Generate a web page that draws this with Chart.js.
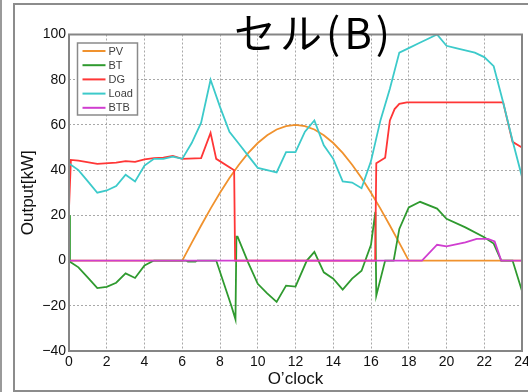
<!DOCTYPE html>
<html>
<head>
<meta charset="utf-8">
<script src="https://cdn.jsdelivr.net/npm/chart.js@4.4.1/dist/chart.umd.min.js"></script>
<style>
  html, body { margin: 0; padding: 0; background: #fff; }
  #wrap { position: relative; width: 528px; height: 392px; overflow: hidden; background: #fff; }
  #edge { position: absolute; left: 0; top: 0; width: 2px; height: 392px; background: #9a9a9a; }
  #frame { position: absolute; left: 13px; top: 3px; width: 620px; height: 389px;
           border: 2px solid #8c8c8c; box-sizing: border-box; }
  canvas { position: absolute; left: 0; top: 0; }
</style>
</head>
<body>
<div id="wrap">
  <div id="edge"></div>
  <div id="frame"></div>
  <canvas id="c" width="528" height="392"></canvas>
</div>
<script>
// Title and axis text
const titleText = 'セル(B)';
const xTitle = 'O’clock';
const yTitle = 'Output[kW]';

// Tick labels
const xTicks = [0, 2, 4, 6, 8, 10, 12, 14, 16, 18, 20, 22, 24];
const yTicks = [-40, -20, 0, 20, 40, 60, 80, 100];

// PV output [kW]
const pvHours = [0, 6, 6.5, 7, 7.5, 8, 8.5, 9, 9.5, 10, 10.5, 11, 11.5, 12, 12.5, 13, 13.5, 14, 14.5, 15, 15.5, 16, 16.5, 17, 17.5, 18, 24];
const pvValues = [0, 0, 7.8, 15.5, 23, 30, 36.5, 42.4, 47.6, 52, 55.4, 58, 59.5, 60, 59.5, 58, 55.4, 52, 47.6, 42.4, 36.5, 30, 23, 15.5, 7.8, 0, 0];

// Battery (BT) output [kW]
const btHours = [0, 0.05, 0.5, 1.0, 1.5, 2.0, 2.5, 3.0, 3.5, 4.0, 4.5, 6.2, 6.3, 6.7, 6.8, 7.8, 8.6, 8.82, 8.87, 8.93, 9.5, 10.0, 10.5, 11.0, 11.5, 12.0, 12.6, 13.0, 13.5, 14.0, 14.5, 15.0, 15.5, 16.0, 16.23, 16.28, 16.75, 17.2, 17.5, 18.0, 18.6, 19.5, 20.0, 21.0, 22.0, 22.5, 22.9, 23.5, 24];
const btValues = [20, -0.5, -3, -7.5, -12.2, -11.6, -9.8, -5.7, -7.7, -2.2, 0, 0, -0.5, -0.5, 0, 0, -20, -26, 10.6, 10.6, -1, -10.3, -14.5, -18.3, -11.1, -11.5, 0, 3.8, -5.2, -8, -12.8, -8, -4.5, 7, 21.5, -15.5, 0, 0, 14, 23.5, 26, 23, 18.5, 14.7, 10.3, 7.5, 0, 0, -13.5];

// Diesel generator (DG) output [kW]
const dgHours = [0, 0.1, 0.5, 1.5, 2.5, 3.0, 3.5, 4.0, 4.5, 5.0, 5.5, 6.0, 7.0, 7.5, 7.8, 8.75, 8.8, 16.22, 16.28, 16.75, 17.0, 17.25, 17.5, 17.9, 23.0, 23.5, 24];
const dgValues = [23, 44.5, 44.2, 42.8, 43.3, 44, 43.7, 44.8, 45.3, 45.5, 46.3, 45, 45.3, 56.5, 45, 40, 0, 0, 43, 45.5, 62, 67, 69.3, 70, 70, 52.5, 50];

// Load demand [kW]
const loadHours = [0, 0.5, 1.0, 1.5, 2.0, 2.5, 3.0, 3.5, 4.0, 4.5, 5.0, 5.5, 6.0, 6.5, 7.0, 7.5, 8.0, 8.5, 9.0, 9.5, 10.0, 10.5, 11.0, 11.5, 12.0, 12.5, 13.0, 13.5, 14.0, 14.5, 15.0, 15.5, 16.0, 16.5, 17.0, 17.5, 18.0, 18.5, 19.0, 19.5, 20.0, 20.5, 21.0, 21.5, 22.0, 22.5, 23.0, 23.5, 24.0];
const loadValues = [43, 40, 35, 30, 31, 33, 38, 35, 42, 45, 45, 46, 45, 52, 61, 80, 68, 57, 51.7, 46.3, 41, 40, 39, 48, 48, 57, 62, 51, 45, 35, 34.5, 32, 44, 62, 76, 92, 94, 96, 98, 100, 95, 94, 93, 92, 90, 86, 70, 53, 37];

// Back-to-back converter (BTB) output [kW]
const btbHours = [0, 18.7, 19.5, 20.0, 21.0, 21.6, 22.2, 22.55, 22.9, 24];
const btbValues = [0, 0, 7, 6.3, 8.1, 9.6, 9.6, 8.5, 0, 0];

function pts(hours, values) {
  return hours.map((h, i) => ({ x: h, y: values[i] }));
}

const series = [
  { label: 'PV',   hours: pvHours,   values: pvValues,   color: '#f0922e', order: 5 },
  { label: 'BT',   hours: btHours,   values: btValues,   color: '#2f9a2f', order: 4 },
  { label: 'DG',   hours: dgHours,   values: dgValues,   color: '#ff3636', order: 3 },
  { label: 'Load', hours: loadHours, values: loadValues, color: '#3ccaca', order: 2 },
  { label: 'BTB',  hours: btbHours,  values: btbValues,  color: '#d03ed0', order: 1 }
];

const minus = v => (v < 0 ? '\u2212' + Math.abs(v) : String(v));

// Axes box, inset legend and the large heading
const decor = {
  id: 'decor',
  afterDatasetsDraw(chart) {
    const { ctx, chartArea: a } = chart;
    ctx.save();
    ctx.strokeStyle = '#858585';
    ctx.lineWidth = 2;
    ctx.strokeRect(a.left, a.top, a.right - a.left, a.bottom - a.top);

    const lx = a.left + 8.5, ly = a.top + 8.5, w = 60, h = 72;
    ctx.fillStyle = '#fff';
    ctx.fillRect(lx, ly, w, h);
    ctx.strokeStyle = '#8a8a8a';
    ctx.lineWidth = 1.5;
    ctx.strokeRect(lx, ly, w, h);
    ctx.font = '11px "Liberation Sans", Arial, sans-serif';
    ctx.textBaseline = 'middle';
    ctx.textAlign = 'left';
    chart.data.datasets.forEach((ds, i) => {
      const y = ly + 8 + i * 14.2;
      ctx.strokeStyle = ds.borderColor;
      ctx.lineWidth = 2;
      ctx.beginPath();
      ctx.moveTo(lx + 5, y);
      ctx.lineTo(lx + 28, y);
      ctx.stroke();
      ctx.fillStyle = '#404040';
      ctx.fillText(ds.label, lx + 31, y + 0.5);
    });

    ctx.fillStyle = '#000';
    ctx.font = '42px "Noto Sans CJK JP", sans-serif';
    ctx.letterSpacing = '4px';
    ctx.textAlign = 'center';
    ctx.textBaseline = 'middle';
    ctx.fillText(titleText, 314, 33);
    ctx.restore();
  }
};

new Chart(document.getElementById('c'), {
  type: 'line',
  data: {
    datasets: series.map(s => ({
      label: s.label,
      data: pts(s.hours, s.values),
      borderColor: s.color,
      backgroundColor: s.color,
      borderWidth: 1.8,
      pointRadius: 0,
      tension: 0,
      fill: false,
      order: s.order
    }))
  },
  options: {
    responsive: false,
    animation: false,
    devicePixelRatio: 1,
    layout: { padding: { left: 0, top: 34.5, right: 6, bottom: 0 } },
    plugins: { legend: { display: false }, title: { display: false }, tooltip: { enabled: false } },
    scales: {
      x: {
        type: 'linear',
        min: 0, max: 24,
        afterBuildTicks: s => { s.ticks = xTicks.map(v => ({ value: v })); },
        afterFit: s => { s.height = 41; s.paddingLeft = 0; s.paddingRight = 0; },
        ticks: { color: '#111', font: { family: '"Liberation Sans", Arial, sans-serif', size: 14 }, padding: 3, maxRotation: 0, autoSkip: false, callback: v => minus(v) },
        grid: { color: '#a8a8a8', lineWidth: 1, drawTicks: false },
        border: { display: false, dash: [2, 2] },
        title: { display: true, text: xTitle, color: '#111', font: { family: '"Liberation Sans", Arial, sans-serif', size: 17 }, padding: { top: 0, bottom: 2 } }
      },
      y: {
        min: -40, max: 100,
        afterBuildTicks: s => { s.ticks = yTicks.map(v => ({ value: v })); },
        afterFit: s => { s.width = 69; s.paddingTop = 0; s.paddingBottom = 0; },
        ticks: { color: '#111', font: { family: '"Liberation Sans", Arial, sans-serif', size: 14 }, padding: 3, callback: v => minus(v) },
        grid: { color: '#a8a8a8', lineWidth: 1, drawTicks: false },
        border: { display: false, dash: [2, 2] },
        title: { display: true, text: yTitle, color: '#111', font: { family: '"Liberation Sans", Arial, sans-serif', size: 17 }, padding: { top: 18, bottom: 0 } }
      }
    }
  },
  plugins: [decor]
});
</script>
</body>
</html>
